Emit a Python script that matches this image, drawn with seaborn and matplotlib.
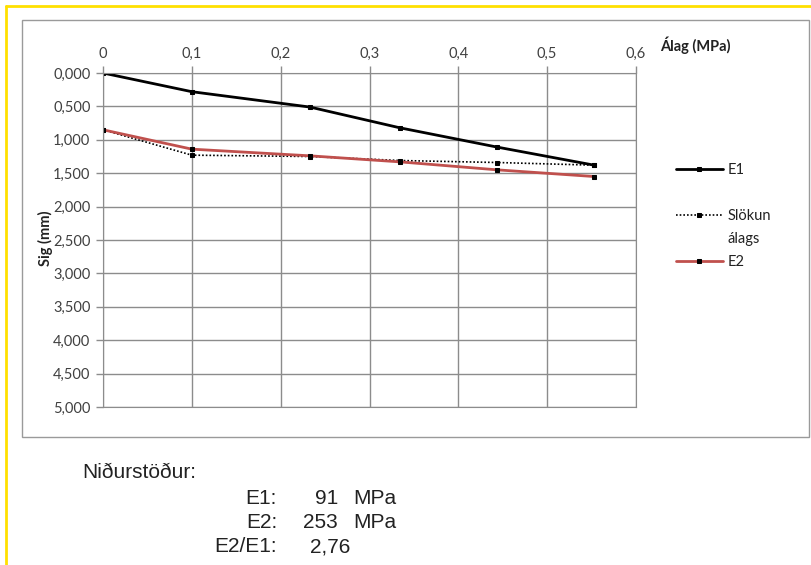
import matplotlib
matplotlib.use('Agg')
import matplotlib.pyplot as plt
import matplotlib.patches as patches
import matplotlib.lines as mlines
import seaborn as sns
import pandas as pd

# load (MPa) and settlement (mm)
alag = [0, 0.100, 0.233, 0.334, 0.444, 0.553]
e1 = [0.00, 0.28, 0.51, 0.82, 1.11, 1.38]
slokun = [0.85, 1.23, 1.25, 1.31, 1.34, 1.38]
e2 = [0.85, 1.14, 1.24, 1.33, 1.45, 1.55]
series_names = ['E1', 'Slökun', 'E2']

x_ticks = [0, 0.1, 0.2, 0.3, 0.4, 0.5, 0.6]
x_labels = ['0', '0,1', '0,2', '0,3', '0,4', '0,5', '0,6']
y_ticks = [0, 0.5, 1, 1.5, 2, 2.5, 3, 3.5, 4, 4.5, 5]
y_labels = ['0,000', '0,500', '1,000', '1,500', '2,000', '2,500', '3,000',
            '3,500', '4,000', '4,500', '5,000']

results_lbl = ['E1:', 'E2:', 'E2/E1:']
results_val = ['91', '253', '2,76']
results_unit = ['MPa', 'MPa', '']

df = pd.DataFrame({'alag': alag * 3,
                   'sig': e1 + slokun + e2,
                   'ferill': [series_names[0]] * 6 + [series_names[1]] * 6 + [series_names[2]] * 6})

sns.set_style('white')
plt.rcParams['font.family'] = ['Lato', 'DejaVu Sans']

fig = plt.figure(figsize=(8.11, 5.65), dpi=100)
W, H = 811, 565

# yellow page border and gray chart frame
fig.add_artist(mlines.Line2D([6 / W, 1], [1 - 6 / H, 1 - 6 / H], color='#ffe000', lw=2))
fig.add_artist(mlines.Line2D([6 / W, 6 / W], [0, 1 - 6 / H], color='#ffe000', lw=2))
fig.add_artist(patches.Rectangle((22 / W, 1 - 437 / H), (809 - 22) / W, (437 - 20) / H,
                                 fill=False, edgecolor='#9a9a9a', lw=1))

ax = fig.add_axes([103 / W, 1 - 407 / H, (636 - 103) / W, (407 - 73) / H])

styles = {series_names[0]: dict(color='black', ls='-', lw=2),
          series_names[1]: dict(color='black', ls=(0, (1, 1.2)), lw=1.2),
          series_names[2]: dict(color='#c0504d', ls='-', lw=2)}
for name in series_names:
    sub = df[df['ferill'] == name]
    st = styles[name]
    sns.lineplot(data=sub, x='alag', y='sig', ax=ax, label=name, color=st['color'],
                 linestyle=st['ls'], linewidth=st['lw'], marker='s', markersize=3,
                 markerfacecolor='black', markeredgecolor='black', sort=False)

ax.set_xlim(0, 0.6)
ax.set_ylim(5, 0)
ax.xaxis.tick_top()
ax.set_xticks(x_ticks)
ax.set_xticklabels(x_labels)
ax.set_yticks(y_ticks)
ax.set_yticklabels(y_labels)
ax.tick_params(axis='both', labelsize=10.5, colors='#404040', length=5, width=1, direction='out',
               color='#8c8c8c', pad=4)
ax.tick_params(axis='x', top=True, bottom=False)
ax.tick_params(axis='y', left=True)
ax.grid(True, color='#8c8c8c', lw=1)
for s in ax.spines.values():
    s.set_color('#8c8c8c')
ax.set_xlabel('')
ax.set_ylabel('')

fig.text(660 / W, 1 - 45 / H, 'Álag (MPa)', fontsize=10.5, fontweight='bold', va='center', ha='left',
         color='#222222')
fig.text(45 / W, 1 - 238 / H, 'Sig (mm)', fontsize=10.5, fontweight='bold', rotation=90,
         va='center', ha='center', color='#222222')

# legend: blank rows keep the Excel-like spacing, second line of "Slökun álags" has no handle
handles, labels = ax.get_legend_handles_labels()
blank = mlines.Line2D([], [], linestyle='none')
leg_handles = [handles[0], blank, handles[1], blank, handles[2]]
leg_labels = [labels[0], '', labels[1], 'álags', labels[2]]
ax.legend(leg_handles, leg_labels, loc='upper left', bbox_to_anchor=(663 / W, 1 - 150 / H),
          bbox_transform=fig.transFigure, frameon=False, fontsize=10.5, handlelength=3.2,
          handletextpad=0.3, labelspacing=0.62, labelcolor='#222222')

fs = 15
fam = ['Liberation Sans']
fig.text(82 / W, 1 - 472 / H, 'Niðurstöður:', fontsize=fs, family=fam, va='center',
         color='#222222')
for i in range(3):
    yy = 1 - (498 + i * 24.5) / H
    fig.text(277 / W, yy, results_lbl[i], fontsize=fs, family=fam, ha='right',
             va='center', color='#222222')
    if results_unit[i]:
        fig.text(338 / W, yy, results_val[i], fontsize=fs, family=fam, ha='right',
                 va='center', color='#222222')
    else:
        fig.text(310 / W, yy, results_val[i], fontsize=fs, family=fam, ha='left',
                 va='center', color='#222222')
    fig.text(353 / W, yy, results_unit[i], fontsize=fs, family=fam, ha='left',
             va='center', color='#222222')

fig.savefig('out.png', dpi=100)
